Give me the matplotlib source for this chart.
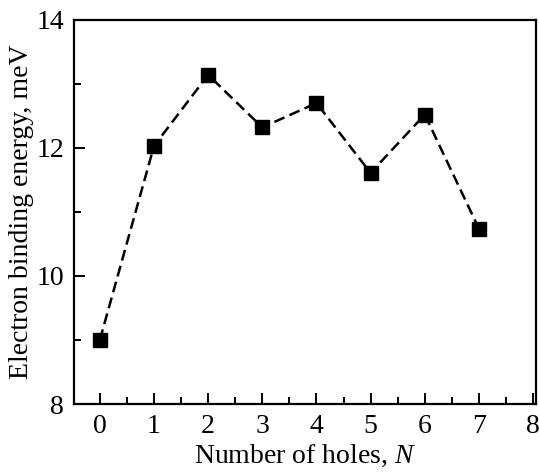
import numpy as np
import matplotlib.pyplot as plt
from matplotlib.ticker import MultipleLocator

# Data
holes = [0, 1, 2, 3, 4, 5, 6, 7]
energy = [9.0, 12.03, 13.14, 12.32, 12.70, 11.61, 12.52, 10.74]

plt.rcParams['font.family'] = ['Liberation Serif', 'DejaVu Serif']
plt.rcParams['mathtext.fontset'] = 'custom'
plt.rcParams['mathtext.it'] = 'Liberation Serif:italic'
plt.rcParams['mathtext.rm'] = 'Liberation Serif'

fig = plt.figure(figsize=(5.39, 4.72), dpi=100)
ax = fig.add_axes([0.137, 0.144, 0.857, 0.814])

ax.plot(holes, energy, color='black', linestyle=(0, (4.4, 2.2)), linewidth=1.8,
        marker='s', markersize=9.5)

ax.set_xlim(-0.48, 8.05)
ax.set_ylim(8, 14)
ax.xaxis.set_major_locator(MultipleLocator(1))
ax.xaxis.set_minor_locator(MultipleLocator(0.5))
ax.yaxis.set_major_locator(MultipleLocator(2))
ax.yaxis.set_minor_locator(MultipleLocator(1))
ax.tick_params(which='both', direction='in', labelsize=20, width=1.4)
ax.tick_params(which='major', length=8, pad=7)
ax.tick_params(which='minor', length=5)
for s in ax.spines.values():
    s.set_linewidth(1.6)

ax.set_xlabel('Number of holes, $\\mathit{N}$', fontsize=20, labelpad=3)
ax.set_ylabel('Electron binding energy, meV', fontsize=20, labelpad=2)

fig.savefig('out.png', dpi=100)
